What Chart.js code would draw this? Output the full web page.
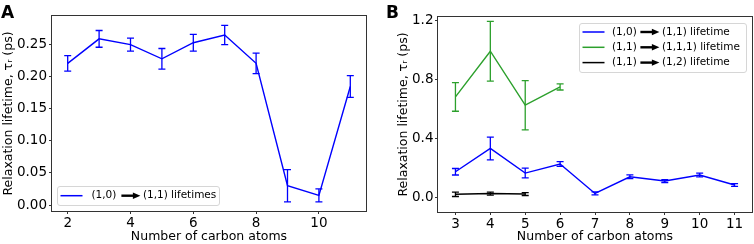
<!DOCTYPE html>
<html>
<head>
<meta charset="utf-8">
<script src="https://cdn.jsdelivr.net/npm/chart.js@4.4.0/dist/chart.umd.min.js"></script>
<style>
  html, body { margin: 0; padding: 0; background: #fff; }
  #wrap { position: relative; width: 754px; height: 244px; }
  .panel { position: absolute; top: 0; width: 377px; height: 244px; }
</style>
</head>
<body>
<div id="wrap">
  <div class="panel" style="left:0"><canvas id="chartA"></canvas></div>
  <div class="panel" style="left:377px"><canvas id="chartB"></canvas></div>
</div>
<script>
// Panel A: (1,0) -> (1,1) lifetimes
var carbonA = [2, 3, 4, 5, 6, 7, 8, 9, 10, 11];
var lifeA   = [0.220, 0.258, 0.249, 0.227, 0.252, 0.264, 0.220, 0.030, 0.015, 0.184];
var errA    = [0.012, 0.013, 0.010, 0.016, 0.013, 0.015, 0.016, 0.025, 0.010, 0.017];
var xTicksA = [2, 4, 6, 8, 10];
var yTicksA = [0, 0.05, 0.10, 0.15, 0.20, 0.25];

// Panel B: three relaxation channels
var carbonB10 = [3, 4, 5, 6, 7, 8, 9, 10, 11];
var life10    = [0.178, 0.336, 0.169, 0.230, 0.031, 0.144, 0.115, 0.156, 0.088];
var err10     = [0.022, 0.077, 0.033, 0.016, 0.010, 0.013, 0.010, 0.013, 0.009];
var carbonB111 = [3, 4, 5, 6];
var life111    = [0.685, 0.995, 0.629, 0.753];
var err111     = [0.097, 0.203, 0.167, 0.021];
var carbonB12 = [3, 4, 5];
var life12    = [0.025, 0.030, 0.027];
var err12     = [0.015, 0.010, 0.010];
var xTicksB = [3, 4, 5, 6, 7, 8, 9, 10, 11];
var yTicksB = [0, 0.4, 0.8, 1.2];

var FONT = '"DejaVu Sans", sans-serif';
var Y_TITLE = 'Relaxation lifetime, \u03C4\u1D63 (ps)';
var X_TITLE = 'Number of carbon atoms';

function points(xs, ys) {
  return xs.map(function (x, i) { return { x: x, y: ys[i] }; });
}

// vertical error bars with caps, drawn through the chart scales
var errorBars = {
  id: 'errorBars',
  afterDatasetsDraw: function (chart) {
    var ctx = chart.ctx, xs = chart.scales.x, ys = chart.scales.y;
    chart.data.datasets.forEach(function (ds) {
      if (!ds.errors) return;
      ctx.save();
      ctx.strokeStyle = ds.borderColor;
      ctx.lineWidth = 1.3;
      ds.data.forEach(function (p, i) {
        var px = xs.getPixelForValue(p.x);
        var top = ys.getPixelForValue(p.y + ds.errors[i]);
        var bot = ys.getPixelForValue(p.y - ds.errors[i]);
        ctx.beginPath();
        ctx.moveTo(px, top); ctx.lineTo(px, bot);
        ctx.moveTo(px - 3.5, top); ctx.lineTo(px + 3.5, top);
        ctx.moveTo(px - 3.5, bot); ctx.lineTo(px + 3.5, bot);
        ctx.stroke();
      });
      ctx.restore();
    });
  }
};

// full box around the plot area + panel letter
var frame = {
  id: 'frame',
  afterDraw: function (chart, args, o) {
    var a = chart.chartArea, ctx = chart.ctx;
    ctx.save();
    ctx.strokeStyle = '#333';
    ctx.lineWidth = 1;
    ctx.strokeRect(a.left - 0.5, a.top - 0.5, a.right - a.left + 1, a.bottom - a.top + 1);
    ctx.fillStyle = '#000';
    ctx.font = 'bold 17px ' + FONT;
    ctx.textBaseline = 'alphabetic';
    ctx.fillText(o.letter, o.lx, o.ly);
    ctx.restore();
  }
};

// matplotlib-like legend with a bold arrow between the states
var arrowLegend = {
  id: 'arrowLegend',
  afterDraw: function (chart, args, o) {
    var ctx = chart.ctx;
    ctx.save();
    ctx.beginPath();
    ctx.roundRect(o.x + 0.5, o.y + 0.5, o.w, o.h, 2.5);
    ctx.fillStyle = 'rgba(255,255,255,0.85)';
    ctx.fill();
    ctx.strokeStyle = '#d6d6d6';
    ctx.lineWidth = 1;
    ctx.stroke();
    ctx.font = '10.5px ' + FONT;
    ctx.textBaseline = 'middle';
    o.items.forEach(function (it, i) {
      var y = o.y + o.rowTop + i * o.rowGap;
      var x = o.x + 3.5;
      ctx.strokeStyle = it.color;
      ctx.lineWidth = 1.5;
      ctx.beginPath(); ctx.moveTo(x, y); ctx.lineTo(x + 22, y); ctx.stroke();
      x += 22 + o.textGap;
      ctx.fillStyle = '#000';
      ctx.fillText(it.from, x, y);
      x += ctx.measureText(it.from).width + o.arrowGap;
      // shaft
      ctx.strokeStyle = '#000';
      ctx.lineWidth = 2.4;
      ctx.beginPath(); ctx.moveTo(x, y); ctx.lineTo(x + 13, y); ctx.stroke();
      // head
      ctx.beginPath();
      ctx.moveTo(x + 11.5, y - 3.2);
      ctx.lineTo(x + 19, y);
      ctx.lineTo(x + 11.5, y + 3.2);
      ctx.closePath();
      ctx.fill();
      x += 21.5;
      ctx.fillText(it.to, x, y);
    });
    ctx.restore();
  }
};

function makePanel(id, cfg) {
  return new Chart(document.getElementById(id), {
    type: 'line',
    data: { datasets: cfg.datasets },
    plugins: [errorBars, frame, arrowLegend],
    options: {
      responsive: true, maintainAspectRatio: false, animation: false,
      layout: { padding: { top: cfg.top, right: cfg.right, left: 0, bottom: 0 } },
      elements: { point: { radius: 0 }, line: { tension: 0, borderWidth: 1.5 } },
      scales: {
        x: {
          type: 'linear', min: cfg.xMin, max: cfg.xMax,
          afterBuildTicks: function (s) { s.ticks = cfg.xTicks.map(function (v) { return { value: v }; }); },
          afterFit: function (s) { s.height = cfg.xHeight; },
          grid: { drawOnChartArea: false, tickLength: 3, tickColor: '#333', tickWidth: 1 },
          border: { display: false },
          ticks: { font: { family: FONT, size: 13.5 }, color: '#000', padding: 1, maxRotation: 0, autoSkip: false },
          title: { display: true, text: X_TITLE, color: '#000', font: { family: FONT, size: 12.5 }, padding: { top: 0, bottom: 0 } }
        },
        y: {
          type: 'linear', min: cfg.yMin, max: cfg.yMax,
          afterBuildTicks: function (s) { s.ticks = cfg.yTicks.map(function (v) { return { value: v }; }); },
          afterFit: function (s) { s.width = cfg.yWidth; },
          grid: { drawOnChartArea: false, tickLength: 3, tickColor: '#333', tickWidth: 1 },
          border: { display: false },
          ticks: {
            font: { family: FONT, size: 13.5 }, color: '#000', padding: cfg.yPad, autoSkip: false,
            callback: function (v) { return Number(v).toFixed(cfg.yDec); }
          },
          title: { display: true, text: Y_TITLE, color: '#000', font: { family: FONT, size: 12.5 }, padding: { top: cfg.yTitlePad, bottom: 0 } }
        }
      },
      plugins: {
        legend: { display: false },
        tooltip: { enabled: false },
        frame: { letter: cfg.letter, lx: cfg.lx, ly: cfg.ly },
        arrowLegend: cfg.legend
      }
    }
  });
}

makePanel('chartA', {
  datasets: [
    { data: points(carbonA, lifeA), errors: errA, borderColor: '#0000ff', borderWidth: 1.4 }
  ],
  top: 16, right: 11, xHeight: 33, yWidth: 52,
  xMin: 1.5, xMax: 11.5, yMin: -0.0093, yMax: 0.2935,
  xTicks: xTicksA, yTicks: yTicksA, yDec: 2, yPad: 2, yTitlePad: 1.5,
  letter: 'A', lx: 1, ly: 17.5,
  legend: {
    x: 57, y: 186, w: 162, h: 19, rowTop: 9.7, rowGap: 15, textGap: 9, arrowGap: 5,
    items: [{ color: '#0000ff', from: '(1,0)', to: '(1,1) lifetimes' }]
  }
});

makePanel('chartB', {
  datasets: [
    { data: points(carbonB10, life10), errors: err10, borderColor: '#0000ff', borderWidth: 1.4 },
    { data: points(carbonB111, life111), errors: err111, borderColor: '#2ca02c', borderWidth: 1.4 },
    { data: points(carbonB12, life12), errors: err12, borderColor: '#000000', borderWidth: 1.4 }
  ],
  top: 17, right: 2, xHeight: 32, yWidth: 61,
  xMin: 2.5, xMax: 11.5, yMin: -0.095, yMax: 1.227,
  xTicks: xTicksB, yTicks: yTicksB, yDec: 1, yPad: 1.5, yTitlePad: 19.5,
  letter: 'B', lx: 9, ly: 17.5,
  legend: {
    x: 202, y: 23, w: 167, h: 49, rowTop: 9, rowGap: 15.3, textGap: 7.5, arrowGap: 3.5,
    items: [
      { color: '#0000ff', from: '(1,0)', to: '(1,1) lifetime' },
      { color: '#2ca02c', from: '(1,1)', to: '(1,1,1) lifetime' },
      { color: '#000000', from: '(1,1)', to: '(1,2) lifetime' }
    ]
  }
});
</script>
</body>
</html>
